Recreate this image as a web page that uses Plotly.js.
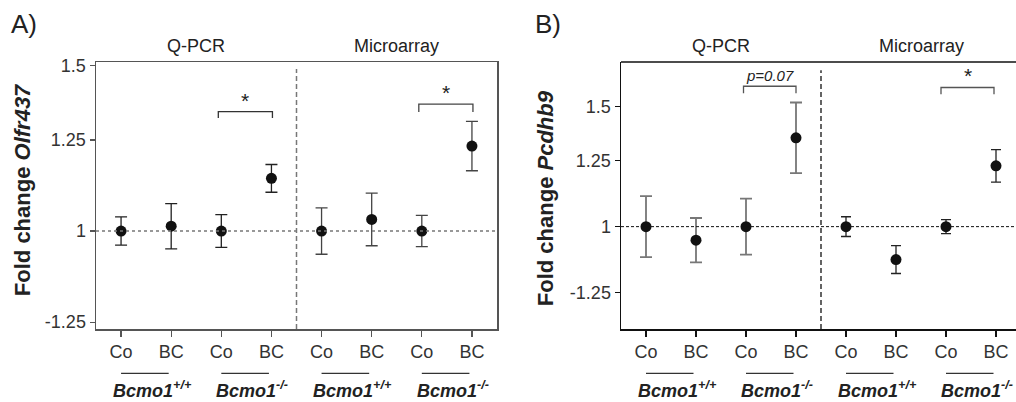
<!DOCTYPE html>
<html>
<head>
<meta charset="utf-8">
<script src="https://cdn.plot.ly/plotly-3.0.1.min.js"></script>
<style>html,body{margin:0;padding:0;background:#fff;}#chart{width:1016px;height:402px;}</style>
</head>
<body>
<div id="chart"></div>
<script>
// ---- data (log2 fold change) ----
const categories = ['Co', 'BC', 'Co', 'BC', 'Co', 'BC', 'Co', 'BC'];
const methods = ['Q-PCR', 'Microarray'];
const genotypeLabels = ['<b><i>Bcmo1<sup>+/+</sup></i></b>', '<b><i>Bcmo1<sup>-/-</sup></i></b>',
                        '<b><i>Bcmo1<sup>+/+</sup></i></b>', '<b><i>Bcmo1<sup>-/-</sup></i></b>'];
const olfrLog2 = [0, 0.017, 0, 0.186, 0, 0.041, 0, 0.300];
const olfrErr  = [0.050, 0.080, 0.058, 0.049, 0.082, 0.093, 0.055, 0.087];
const pcdhbLog2 = [0, -0.066, 0, 0.432, 0, -0.160, 0, 0.296];
const pcdhbErr  = [0.148, 0.108, 0.136, 0.172, 0.048, 0.068, 0.034, 0.079];
const yTickFold = [1.5, 1.25, 1, -1.25];
const yTickLabels = ['1.5', '1.25', '1', '-1.25'];

const FONT = 'Liberation Sans, Arial, Helvetica, sans-serif';
const pos = categories.map((_, i) => i + 1);
const foldToLog = f => f < 0 ? -Math.log2(-f) : Math.log2(f);
const yTickVals = yTickFold.map(foldToLog);

function seg(vals, errs, lo, hi, xa, ya, ecol, eth, ew) {
  return {
    type: 'scatter', mode: 'markers',
    x: pos.slice(lo, hi), y: vals.slice(lo, hi),
    xaxis: xa, yaxis: ya,
    marker: {color: '#111', size: 11},
    error_y: {type: 'data', array: errs.slice(lo, hi), visible: true, color: ecol, thickness: eth, width: ew},
    showlegend: false, hoverinfo: 'x+y'
  };
}

const traces = [
  seg(olfrLog2, olfrErr, 0, 4, 'x', 'y', '#222', 1.3, 6),
  seg(olfrLog2, olfrErr, 4, 8, 'x', 'y', '#444', 1.3, 6),
  seg(pcdhbLog2, pcdhbErr, 0, 4, 'x2', 'y2', '#777', 1.8, 6),
  seg(pcdhbLog2, pcdhbErr, 4, 8, 'x2', 'y2', '#222', 1.3, 5)
];

const tickFont = {family: FONT, size: 18, color: '#333'};
function xAxis(domain, range, anchor, col) {
  return {domain: domain, range: range, anchor: anchor, tickmode: 'array', tickvals: pos, ticktext: categories,
    ticks: 'outside', ticklen: 6, tickcolor: col, tickwidth: 1.3, showline: true, linecolor: col, linewidth: 1.5,
    showgrid: false, zeroline: false, tickfont: tickFont, fixedrange: true};
}
function yAxis(range, anchor, col) {
  return {domain: [0, 1], range: range, anchor: anchor, tickmode: 'array', tickvals: yTickVals, ticktext: yTickLabels,
    ticks: 'outside', ticklen: 5, tickcolor: col, tickwidth: 1.3, showline: true, linecolor: col, linewidth: 1.5,
    showgrid: false, zeroline: false, tickfont: tickFont, fixedrange: true};
}

const xa = xAxis([96 / 1016, 497 / 1016], [0.5, 8.5], 'y', '#555');
xa.mirror = true;
const ya = yAxis([-0.346, 0.597], 'x', '#555');
ya.mirror = true;
const xb = xAxis([621 / 1016, 1], [0.5, 8.4], 'y2', '#111');
const yb = yAxis([-0.498, 0.801], 'x2', '#111');

const shapes = [];
const annotations = [];

// reference lines
shapes.push({type: 'line', xref: 'x domain', yref: 'y', x0: 0, x1: 1, y0: 0, y1: 0, line: {color: '#777', width: 1.4, dash: 'dot'}});
shapes.push({type: 'line', xref: 'x2 domain', yref: 'y2', x0: 0, x1: 1, y0: 0, y1: 0, line: {color: '#111', width: 1, dash: '3px,2px'}});
// separators
shapes.push({type: 'line', xref: 'x', yref: 'y', x0: 4.5, x1: 4.5, y0: -0.346, y1: 0.572, line: {color: '#777', width: 1.5, dash: '5px,3px'}});
shapes.push({type: 'line', xref: 'x2', yref: 'y2', x0: 4.5, x1: 4.5, y0: -0.498, y1: 0.761, line: {color: '#111', width: 1.3, dash: '5px,3px'}});
// panel B top border
shapes.push({type: 'line', xref: 'x2 domain', yref: 'y2 domain', x0: 0, x1: 1, y0: 1, y1: 1, line: {color: '#111', width: 1.5}});

// significance brackets
function bracket(xr, yr, x0, x1, ytop, ydrop, col, label, italic) {
  shapes.push({type: 'path', xref: xr, yref: yr,
    path: `M ${x0} ${ydrop} L ${x0} ${ytop} L ${x1} ${ytop} L ${x1} ${ydrop}`,
    line: {color: col, width: 1.3}});
  annotations.push({xref: xr, yref: yr, x: (x0 + x1) / 2, y: ytop, yanchor: 'bottom', showarrow: false,
    text: label, yshift: italic ? 0 : -2,
    font: {family: FONT, size: italic ? 15 : 21, color: '#222'}});
}
bracket('x', 'y', 2.94, 4.02, 0.4216, 0.399, '#333', '*', false);
bracket('x', 'y', 6.94, 8.02, 0.448, 0.42, '#444', '*', false);
bracket('x2', 'y2', 2.95, 4.0, 0.683, 0.649, '#555', '<i>p=0.07</i>', true);
bracket('x2', 'y2', 6.9, 7.96, 0.677, 0.644, '#555', '*', false);

// method titles, genotype underlines and labels
['x', 'x2'].forEach(xr => {
  methods.forEach((m, k) => {
    annotations.push({xref: xr, yref: 'paper', x: 2.5 + 4 * k, y: 1.06, yanchor: 'middle', showarrow: false,
      text: m, font: {family: FONT, size: 18, color: '#222'}});
  });
  genotypeLabels.forEach((g, k) => {
    const c = 1 + 2 * k;
    shapes.push({type: 'line', xref: xr, yref: 'paper', x0: c, x1: c + 0.95, y0: -0.166, y1: -0.166,
      line: {color: '#333', width: 1.3}});
    annotations.push({xref: xr, yref: 'paper', x: c + 0.5, y: -0.225, yanchor: 'middle', showarrow: false,
      xshift: 6, text: g, font: {family: FONT, size: 18, color: '#222'}});
  });
});

// y titles and panel letters
annotations.push({xref: 'paper', yref: 'paper', x: 22 / 1016, y: 0.52, textangle: -90, showarrow: false,
  xanchor: 'center', yanchor: 'middle',
  text: '<b>Fold change <i>Olfr437</i></b>', font: {family: FONT, size: 22, color: '#222'}});
annotations.push({xref: 'paper', yref: 'paper', x: 545 / 1016, y: 0.49, textangle: -90, showarrow: false,
  xanchor: 'center', yanchor: 'middle',
  text: '<b>Fold change <i>Pcdhb9</i></b>', font: {family: FONT, size: 22, color: '#222'}});
annotations.push({xref: 'paper', yref: 'paper', x: 24 / 1016, y: 1.142, showarrow: false, xanchor: 'center', yanchor: 'middle',
  text: 'A)', font: {family: FONT, size: 26, color: '#222'}});
annotations.push({xref: 'paper', yref: 'paper', x: 548 / 1016, y: 1.142, showarrow: false, xanchor: 'center', yanchor: 'middle',
  text: 'B)', font: {family: FONT, size: 26, color: '#222'}});

const layout = {
  width: 1016, height: 402,
  margin: {l: 0, r: 0, t: 62, b: 73},
  paper_bgcolor: '#fff', plot_bgcolor: '#fff',
  font: {family: FONT, color: '#222'},
  xaxis: xa, yaxis: ya, xaxis2: xb, yaxis2: yb,
  shapes: shapes, annotations: annotations,
  showlegend: false
};

Plotly.newPlot('chart', traces, layout, {displayModeBar: false, staticPlot: true});
</script>
</body>
</html>
